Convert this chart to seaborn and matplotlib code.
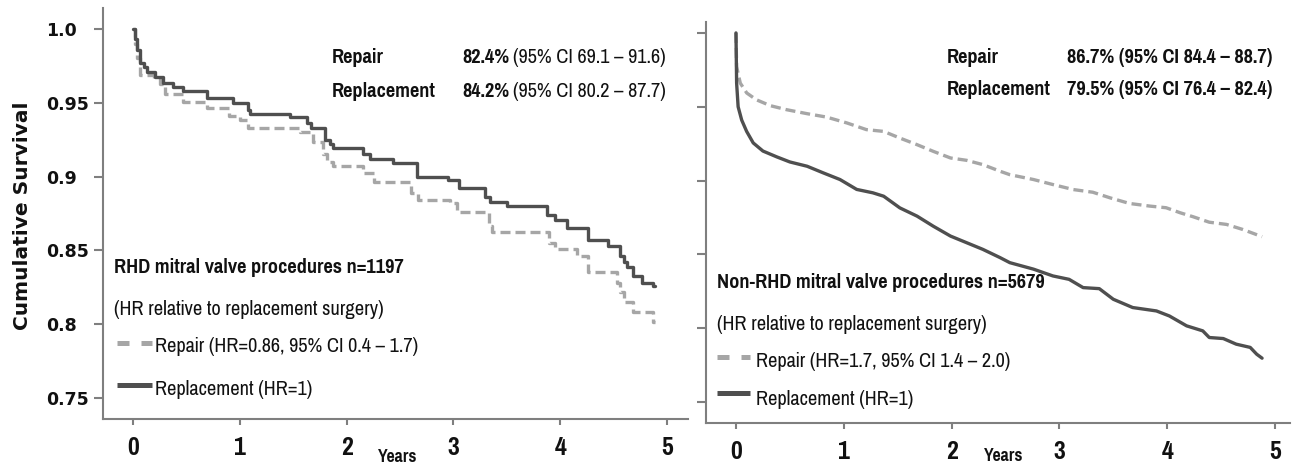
import matplotlib
matplotlib.use("Agg")
import matplotlib.pyplot as plt
from matplotlib.lines import Line2D
from matplotlib import font_manager as fm
import numpy as np
import pandas as pd
import seaborn as sns

# ---------------- data ----------------
# RHD panel (Kaplan-Meier steps)
rhd_repl_t = [0, 0.02, 0.04, 0.066, 0.10, 0.13, 0.21, 0.28, 0.375, 0.47, 0.69, 0.94, 1.08,
              1.10, 1.47, 1.63, 1.67, 1.80, 1.84, 1.87, 2.15, 2.22, 2.43, 2.66, 2.95, 3.05,
              3.30, 3.34, 3.50, 3.88, 3.95, 4.06, 4.26, 4.45, 4.56, 4.60, 4.63, 4.68, 4.77,
              4.87, 4.89]
rhd_repl_s = [1.0, 0.993, 0.986, 0.977, 0.974, 0.971, 0.9676, 0.9635, 0.961, 0.958, 0.953,
              0.950, 0.9453, 0.9426, 0.9405, 0.936, 0.933, 0.925, 0.922, 0.9196, 0.915, 0.912,
              0.9095, 0.900, 0.898, 0.8926, 0.886, 0.883, 0.880, 0.874, 0.8705, 0.8655, 0.857,
              0.8527, 0.846, 0.842, 0.839, 0.8324, 0.828, 0.8257, 0.8257]

rhd_rep_t = [0, 0.02, 0.04, 0.07, 0.20, 0.25, 0.30, 0.47, 0.69, 0.90, 1.00, 1.08, 1.56,
             1.69, 1.78, 1.82, 1.87, 2.15, 2.26, 2.60, 2.67, 2.97, 3.03, 3.33, 3.36, 3.90,
             3.95, 4.16, 4.26, 4.53, 4.56, 4.60, 4.68, 4.87, 4.89]
rhd_rep_s = [1.0, 0.99, 0.98, 0.969, 0.967, 0.963, 0.956, 0.9507, 0.9466, 0.941, 0.9385,
             0.933, 0.930, 0.9236, 0.915, 0.910, 0.9074, 0.9027, 0.896, 0.889, 0.884, 0.882,
             0.876, 0.8666, 0.8628, 0.855, 0.8507, 0.846, 0.8351, 0.828, 0.822, 0.815, 0.808,
             0.8014, 0.8014]

# Non-RHD panel
non_repl_t = [0, 0.006, 0.02, 0.053, 0.099, 0.16, 0.25, 0.38, 0.50, 0.66, 0.81, 0.965, 1.12,
              1.27, 1.37, 1.52, 1.68, 1.83, 1.99, 2.14, 2.29, 2.45, 2.54, 2.76, 2.94, 3.09,
              3.22, 3.37, 3.50, 3.68, 3.90, 4.02, 4.18, 4.33, 4.39, 4.52, 4.64, 4.77, 4.83,
              4.88]
non_repl_s = [1.0, 0.966, 0.950, 0.941, 0.9333, 0.9255, 0.920, 0.916, 0.9126, 0.9097, 0.9052,
              0.9007, 0.894, 0.8917, 0.8894, 0.8815, 0.8759, 0.8691, 0.8624, 0.8579, 0.8534,
              0.8478, 0.8444, 0.840, 0.8354, 0.8331, 0.8275, 0.8268, 0.8196, 0.814, 0.8117,
              0.8083, 0.8016, 0.7982, 0.7937, 0.793, 0.7892, 0.787, 0.7824, 0.7797]

non_rep_t = [0, 0.006, 0.04, 0.10, 0.19, 0.32, 0.47, 0.66, 0.84, 1.03, 1.21, 1.37, 1.52, 1.68,
             1.83, 1.99, 2.14, 2.29, 2.45, 2.54, 2.76, 2.94, 3.13, 3.31, 3.47, 3.65, 3.84,
             3.99, 4.12, 4.24, 4.39, 4.55, 4.70, 4.88]
non_rep_s = [1.0, 0.9772, 0.966, 0.9593, 0.9547, 0.9507, 0.948, 0.9453, 0.943, 0.939, 0.9345,
             0.9333, 0.9288, 0.9243, 0.9198, 0.9153, 0.9137, 0.9108, 0.9063, 0.904, 0.9007,
             0.8973, 0.8939, 0.8921, 0.8883, 0.8845, 0.8827, 0.8816, 0.8782, 0.8755, 0.8718,
             0.8703, 0.8669, 0.862]

groups = ["Repair", "Replacement"]
x_ticks = [0, 1, 2, 3, 4, 5]
y_ticks = [1.0, 0.95, 0.9, 0.85, 0.8, 0.75]
y_tick_labels = ["1.0", "0.95", "0.9", "0.85", "0.8", "0.75"]

left_title = "RHD mitral valve procedures n=1197"
right_title = "Non-RHD mitral valve procedures n=5679"
hr_note = "(HR relative to replacement surgery)"
left_legend = ["Repair (HR=0.86, 95% CI 0.4 \u2013 1.7)", "Replacement (HR=1)"]
right_legend = ["Repair (HR=1.7, 95% CI 1.4 \u2013 2.0)", "Replacement (HR=1)"]
left_surv_bold = ["82.4%", "84.2%"]
left_surv_ci = ["(95% CI 69.1 \u2013 91.6)", "(95% CI 80.2 \u2013 87.7)"]
right_surv = ["86.7% (95% CI 84.4 \u2013 88.7)", "79.5% (95% CI 76.4 \u2013 82.4)"]

# ---------------- style ----------------
sns.set_style("ticks")
plt.rcParams["font.family"] = ["DejaVu Sans"]

PAL = {"Repair": "#a6a6a6", "Replacement": "#4f4f4f"}
DASH = {"Repair": (3, 1.5), "Replacement": ""}
SPINE = "#7f7f7f"
TXT = "#111111"


def _w(v):
    if isinstance(v, (int, float)):
        return int(v)
    return int(fm.weight_dict.get(str(v).lower(), 400))


faces = {}
for f in fm.fontManager.ttflist:
    faces.setdefault(f.name, set()).add(_w(f.weight))

NFAM, NSTRETCH = None, "normal"
for cand in ["Liberation Sans Narrow", "Arial Narrow", "Pragati Narrow", "PT Sans Narrow",
             "Archivo Narrow", "Roboto Condensed", "Fira Sans Condensed",
             "IBM Plex Sans Condensed", "Barlow Condensed"]:
    ws = faces.get(cand, set())
    if any(w <= 500 for w in ws) and any(w >= 600 for w in ws):
        NFAM = [cand, "DejaVu Sans"]
        break
if NFAM is None:
    NFAM, NSTRETCH = ["DejaVu Sans"], "condensed"

fig = plt.figure(figsize=(12.93, 4.70), dpi=100)

# calibrate the narrow font so that the panel title has the reference width (289 px)
_r = fig.canvas.get_renderer()
_t = fig.text(0, 0, left_title, fontfamily=NFAM, fontstretch=NSTRETCH, fontsize=15,
              fontweight="bold")
K = 289.0 / _t.get_window_extent(_r).width
_t.remove()


def nfont(size, weight="normal"):
    return dict(fontfamily=NFAM, fontstretch=NSTRETCH, fontsize=size * K,
                fontweight=weight, color=TXT)


TS = 15.0  # narrow text size

axL = fig.add_axes([103 / 1293, (470 - 419) / 470, 585 / 1293, 411 / 470])
axR = fig.add_axes([706 / 1293, (470 - 423) / 470, 584 / 1293, 401 / 470])


def frame(t, s, name):
    return pd.DataFrame({"Years": t, "Survival": s, "Procedure": name})


left_df = pd.concat([frame(rhd_rep_t, rhd_rep_s, "Repair"),
                     frame(rhd_repl_t, rhd_repl_s, "Replacement")], ignore_index=True)
right_df = pd.concat([frame(non_rep_t, non_rep_s, "Repair"),
                      frame(non_repl_t, non_repl_s, "Replacement")], ignore_index=True)

sns.lineplot(data=left_df, x="Years", y="Survival", hue="Procedure", style="Procedure",
             hue_order=groups, style_order=groups, palette=PAL, dashes=DASH,
             estimator=None, sort=False, drawstyle="steps-post", linewidth=2.4,
             legend=False, ax=axL)
sns.lineplot(data=right_df, x="Years", y="Survival", hue="Procedure", style="Procedure",
             hue_order=groups, style_order=groups, palette=PAL, dashes=DASH,
             estimator=None, sort=False, linewidth=2.4, legend=False, ax=axR)

for ax in (axL, axR):
    ax.spines[["top", "right"]].set_visible(False)
    for s in ("left", "bottom"):
        ax.spines[s].set_color(SPINE)
        ax.spines[s].set_linewidth(1.5)
    ax.set_xticks(x_ticks, [str(v) for v in x_ticks])
    ax.tick_params(axis="x", length=4.5, width=1.5, color=SPINE, pad=7.5)
    ax.tick_params(axis="y", length=6.5, width=1.5, color=SPINE, pad=34.5)
    for lab in ax.get_xticklabels():
        lab.set_fontfamily(NFAM)
        lab.set_fontstretch(NSTRETCH)
        lab.set_fontsize(19 * K)
        lab.set_fontweight("bold")
        lab.set_color(TXT)
    ax.set_xlabel("Years", **nfont(13, "bold"))

axL.set_xlim(-0.281, 5.197)
axL.set_ylim(0.7358, 1.0142)
axR.set_xlim(-0.278, 5.139)
axR.set_ylim(0.7358, 1.0074)

axL.set_yticks(y_ticks, y_tick_labels)
for lab in axL.get_yticklabels():
    lab.set_fontfamily(["DejaVu Sans"])
    lab.set_fontsize(12.5)
    lab.set_fontweight("bold")
    lab.set_color(TXT)
    lab.set_horizontalalignment("left")
axR.set_yticks(y_ticks, [""] * len(y_ticks))
axR.set_ylabel("")

axL.set_ylabel("Cumulative Survival", fontfamily=["DejaVu Sans"], fontsize=14.5,
               fontweight="bold", color=TXT)
axL.yaxis.set_label_coords(-0.121, 0.494)
axL.xaxis.set_label_coords(0.503, -0.072)
axR.xaxis.set_label_coords(0.51, -0.062)

# ---------------- annotations: left panel ----------------
for i, (yb, grp) in enumerate(zip([0.8662, 0.7835], groups)):
    axL.text(0.3915, yb, grp, transform=axL.transAxes, va="baseline", ha="left",
             **nfont(TS, "bold"))
    tb = axL.text(0.6137, yb, left_surv_bold[i], transform=axL.transAxes, va="baseline",
                  ha="left", **nfont(TS, "bold"))
    axL.annotate(left_surv_ci[i], xy=(1, 0), xycoords=tb, xytext=(3, 0),
                 textcoords="offset points", va="bottom", ha="left", **nfont(TS))

axL.text(0.0188, 0.3552, left_title, transform=axL.transAxes, va="baseline",
         **nfont(TS, "bold"))
axL.text(0.0188, 0.253, hr_note, transform=axL.transAxes, va="baseline", **nfont(TS))

# ---------------- annotations: right panel ----------------
for i, (yb, grp) in enumerate(zip([0.8978, 0.818], groups)):
    axR.text(0.4127, yb, grp, transform=axR.transAxes, va="baseline", ha="left",
             **nfont(TS, "bold"))
    axR.text(0.6182, yb, right_surv[i], transform=axR.transAxes, va="baseline",
             ha="left", **nfont(TS, "bold"))

axR.text(0.0188, 0.3367, right_title, transform=axR.transAxes, va="baseline",
         **nfont(TS, "bold"))
axR.text(0.0188, 0.2319, hr_note, transform=axR.transAxes, va="baseline", **nfont(TS))


# ---------------- legend entries ----------------
def legend_rows(ax, x0, x1, xt, rows):
    for (yl, yb, grp, label) in rows:
        ln = Line2D([x0, x1], [yl, yl], transform=ax.transAxes, color=PAL[grp],
                    linewidth=3.6, solid_capstyle="butt", dash_capstyle="butt")
        if grp == "Repair":
            ln.set_dashes((2.4, 2.4))
        ax.add_line(ln)
        ax.text(xt, yb, label, transform=ax.transAxes, va="baseline", **nfont(TS))


legend_rows(axL, 0.0239, 0.0838, 0.0889,
            [(0.1849, 0.163, "Repair", left_legend[0]),
             (0.0827, 0.0584, "Replacement", left_legend[1])])
legend_rows(axR, 0.0188, 0.0753, 0.0856,
            [(0.1646, 0.1397, "Repair", right_legend[0]),
             (0.0748, 0.0449, "Replacement", right_legend[1])])

fig.savefig("out.png", dpi=100, facecolor="white")
